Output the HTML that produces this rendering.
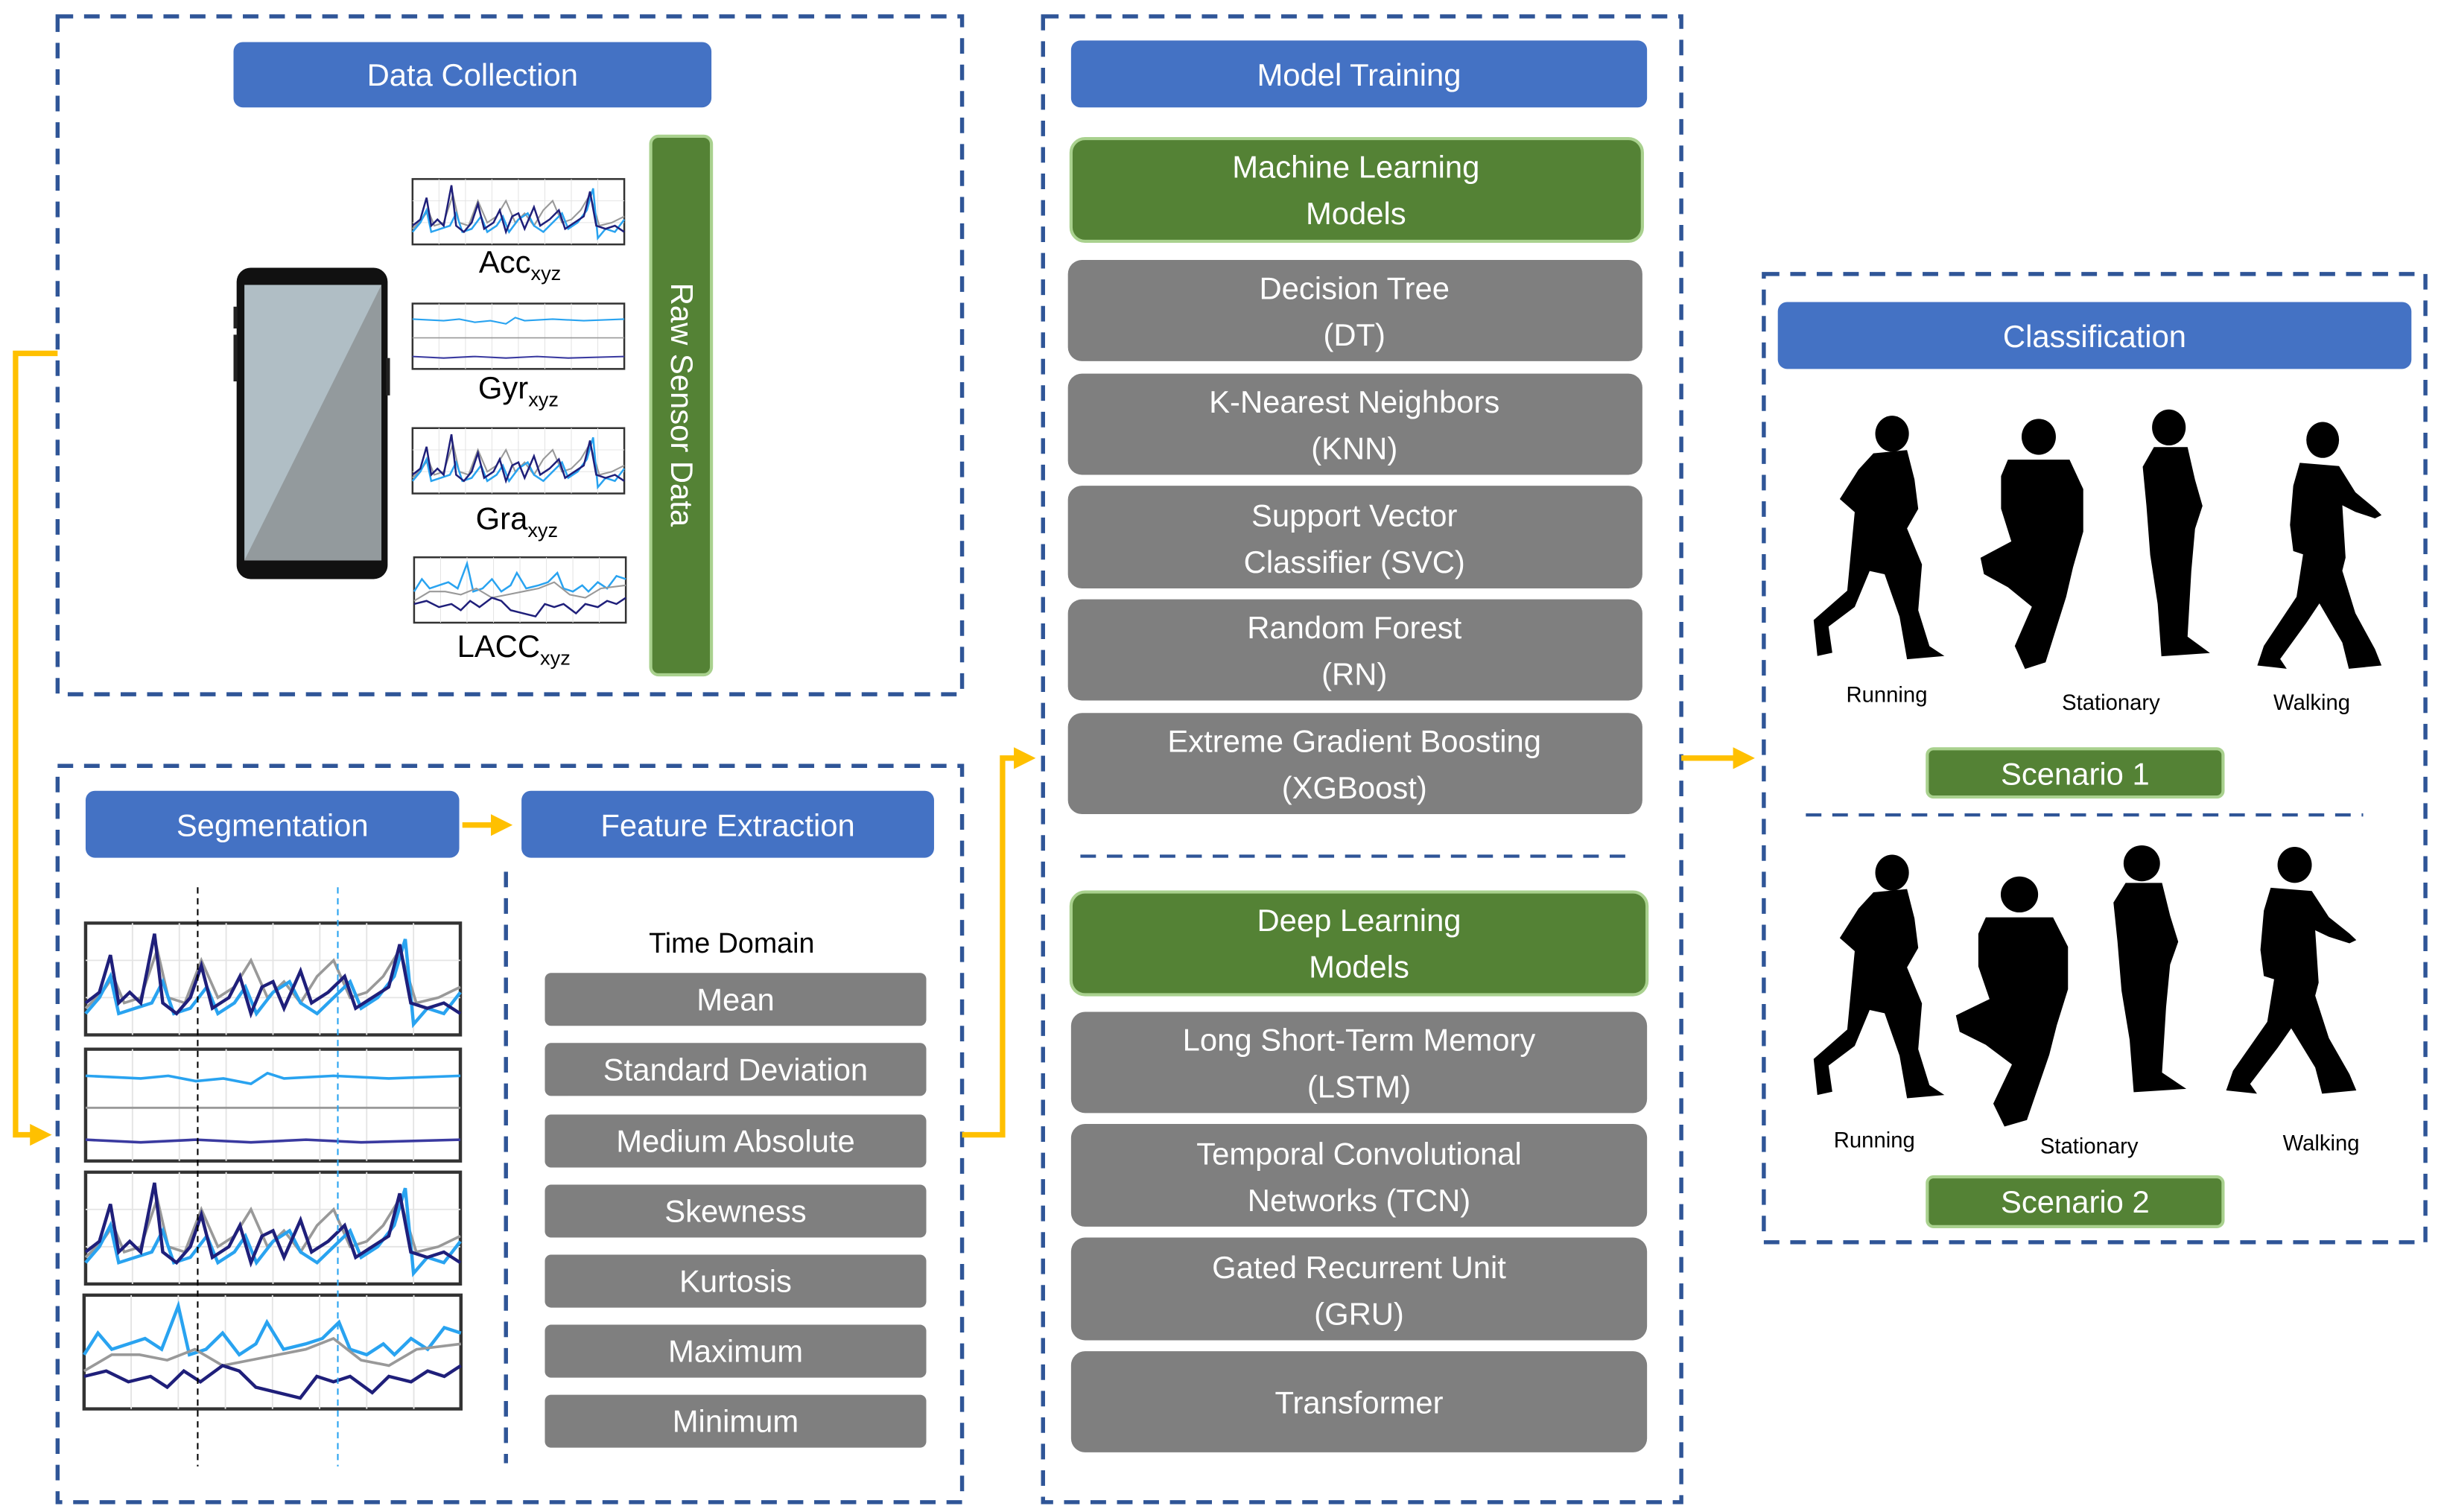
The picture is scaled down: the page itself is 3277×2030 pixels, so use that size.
<!DOCTYPE html>
<html><head><meta charset="utf-8"><style>
html,body{margin:0;padding:0;background:#fff;}
svg{display:block;}
text{font-family:"Liberation Sans",sans-serif;}
</style></head><body>
<svg width="3277" height="2030" viewBox="0 0 1568 971.3" xmlns="http://www.w3.org/2000/svg">
<defs>
<marker id="ah" markerWidth="4" markerHeight="4" refX="2.5" refY="2" orient="auto" markerUnits="strokeWidth">
<path d="M0,0 L4,2 L0,4 z" fill="#FFC000"/></marker>
<g id="spk">
<rect x="0" y="0" width="136" height="42" fill="#fff" stroke="#333" stroke-width="1.2"/>
<g stroke="#e4e4e4" stroke-width="0.5"><line x1="17" y1="0" x2="17" y2="42"/><line x1="34" y1="0" x2="34" y2="42"/><line x1="51" y1="0" x2="51" y2="42"/><line x1="68" y1="0" x2="68" y2="42"/><line x1="85" y1="0" x2="85" y2="42"/><line x1="102" y1="0" x2="102" y2="42"/><line x1="119" y1="0" x2="119" y2="42"/><line x1="0" y1="14" x2="136" y2="14"/><line x1="0" y1="28" x2="136" y2="28"/></g>
<polyline fill="none" stroke="#999" stroke-width="1" points="0,32 6,26 10,20 14,30 20,28 26,10 30,28 36,30 42,14 48,28 54,24 60,14 66,28 72,22 78,30 84,20 90,14 96,28 102,26 108,20 114,10 120,30 128,28 136,24"/>
<polyline fill="none" stroke="#29A3F0" stroke-width="1.2" points="0,34 5,28 9,20 12,34 18,32 24,30 28,22 32,34 38,32 44,24 48,34 54,30 58,24 62,34 68,26 74,22 78,30 84,34 90,28 96,22 100,32 106,28 112,20 116,6 119,38 124,32 130,34 136,26"/>
<polyline fill="none" stroke="#1F1F7A" stroke-width="1.2" points="0,30 5,26 9,12 12,30 16,26 20,30 25,4 28,30 33,34 38,28 42,16 46,32 52,28 56,20 60,34 64,24 68,22 72,32 78,18 82,30 88,26 94,20 98,32 104,28 110,24 114,8 118,30 124,32 130,30 136,34"/>
</g>
<g id="flat">
<rect x="0" y="0" width="136" height="42" fill="#fff" stroke="#333" stroke-width="1.2"/>
<g stroke="#e4e4e4" stroke-width="0.5"><line x1="17" y1="0" x2="17" y2="42"/><line x1="34" y1="0" x2="34" y2="42"/><line x1="51" y1="0" x2="51" y2="42"/><line x1="68" y1="0" x2="68" y2="42"/><line x1="85" y1="0" x2="85" y2="42"/><line x1="102" y1="0" x2="102" y2="42"/><line x1="119" y1="0" x2="119" y2="42"/></g>
<polyline fill="none" stroke="#29A3F0" stroke-width="1" points="0,10 20,11 30,10 40,12 50,11 60,13 66,9 72,11 90,10 110,11 136,10"/>
<line x1="0" y1="22" x2="136" y2="22" stroke="#999" stroke-width="0.8"/>
<polyline fill="none" stroke="#3A3AA0" stroke-width="1" points="0,34 20,35 40,34 60,35 80,34 100,35 136,34"/>
</g>
<g id="lacc">
<rect x="0" y="0" width="136" height="42" fill="#fff" stroke="#333" stroke-width="1.2"/>
<g stroke="#e4e4e4" stroke-width="0.5"><line x1="17" y1="0" x2="17" y2="42"/><line x1="34" y1="0" x2="34" y2="42"/><line x1="51" y1="0" x2="51" y2="42"/><line x1="68" y1="0" x2="68" y2="42"/><line x1="85" y1="0" x2="85" y2="42"/><line x1="102" y1="0" x2="102" y2="42"/><line x1="119" y1="0" x2="119" y2="42"/></g>
<polyline fill="none" stroke="#29A3F0" stroke-width="1.2" points="0,22 5,14 10,20 16,18 22,16 28,20 34,4 38,22 44,20 50,14 56,22 62,18 66,10 72,20 80,18 86,16 92,10 96,20 102,22 108,18 112,22 118,16 124,20 130,12 136,14"/>
<polyline fill="none" stroke="#999" stroke-width="1" points="0,28 10,22 20,22 30,24 40,20 50,26 60,24 70,22 80,20 90,16 100,24 110,26 120,20 136,18"/>
<polyline fill="none" stroke="#1F1F7A" stroke-width="1.2" points="0,30 8,28 16,32 24,30 30,34 36,28 42,32 50,26 56,28 62,34 70,36 78,38 84,30 90,32 96,30 104,36 110,30 118,32 124,28 130,30 136,26"/>
</g>
<g id="runner"><ellipse cx="42" cy="12" rx="9" ry="11"/><path d="M32,24 L50,22 L54,40 L56,58 L50,70 L58,92 L56,120 L62,142 L70,148 L50,150 L46,124 L38,98 L30,96 L22,118 L8,130 L10,146 L2,148 L0,126 L18,108 L20,84 L22,60 L14,52 L24,34 Z"/></g>
<g id="stander"><ellipse cx="16" cy="12" rx="9" ry="11"/><path d="M8,24 L26,24 L30,44 L34,60 L30,74 L28,100 L26,140 L38,150 L12,152 L10,120 L6,90 L4,60 L2,36 Z"/></g>
<g id="sitter"><ellipse cx="36" cy="12" rx="10" ry="11"/><path d="M18,26 L54,26 L62,44 L62,70 L56,92 L52,110 L40,150 L28,154 L22,140 L32,116 L18,104 L4,96 L2,86 L20,76 L14,56 L14,36 Z"/></g>
<g id="walker"><ellipse cx="40" cy="12" rx="10" ry="11"/><path d="M26,26 L50,28 L60,44 L72,54 L76,58 L72,60 L60,56 L52,52 L54,84 L52,92 L60,118 L72,140 L76,150 L56,152 L52,136 L38,112 L30,124 L14,146 L18,152 L0,150 L4,138 L24,108 L28,82 L22,80 L20,64 L22,40 Z"/></g>
</defs>

<g fill="none" stroke="#2F5597" stroke-width="2.6" stroke-dasharray="10,7">
<rect x="37" y="10.5" width="581" height="435.5"/>
<rect x="37" y="492" width="581" height="473"/>
<rect x="670" y="10.5" width="410" height="954.5"/>
<rect x="1133" y="176" width="425" height="622"/>
<line x1="325" y1="560" x2="325" y2="940"/>
<line x1="694" y1="550" x2="1050" y2="550" stroke-width="2"/>
<line x1="1160" y1="523.5" x2="1518" y2="523.5" stroke-width="2"/>
</g>

<g fill="none" stroke="#FFC000" stroke-width="3.5">
<polyline points="37,227 10,227 10,729 28,729" marker-end="url(#ah)"/>
<polyline points="618,729 644,729 644,487 660,487" marker-end="url(#ah)"/>
<line x1="1080" y1="487" x2="1122" y2="487" marker-end="url(#ah)"/>
<line x1="297" y1="530" x2="324" y2="530" marker-end="url(#ah)"/>
</g>

<g fill="#4472C4">
<rect x="150" y="27" width="307" height="42" rx="6"/>
<rect x="55" y="508" width="240" height="43" rx="6"/>
<rect x="335" y="508" width="265" height="43" rx="6"/>
<rect x="688" y="26" width="370" height="43" rx="6"/>
<rect x="1142" y="194" width="407" height="43" rx="6"/>
</g>
<g fill="#fff" font-size="20" text-anchor="middle">
<text x="303.5" y="55">Data Collection</text>
<text x="175" y="537">Segmentation</text>
<text x="467.5" y="537">Feature Extraction</text>
<text x="873" y="55">Model Training</text>
<text x="1345.5" y="223">Classification</text>
</g>

<rect x="418" y="87.5" width="39" height="346" rx="5" fill="#548235" stroke="#A9D18E" stroke-width="2"/>
<text x="0" y="0" transform="translate(431,260) rotate(90)" fill="#fff" font-size="20" text-anchor="middle">Raw Sensor Data</text>

<rect x="152" y="172" width="97" height="200" rx="9" fill="#111"/>
<polygon points="157,183 245,183 245,360 157,360" fill="#B0BEC5"/>
<polygon points="245,183 245,360 157,360" fill="#939A9D"/>
<rect x="150" y="197" width="2.5" height="14" fill="#222"/>
<rect x="150" y="215" width="2.5" height="30" fill="#222"/>
<rect x="248" y="230" width="2.5" height="24" fill="#222"/>

<use href="#spk" x="265" y="115"/>
<use href="#flat" x="265" y="195"/>
<use href="#spk" x="265" y="275"/>
<use href="#lacc" x="266" y="358"/>
<g font-size="20" fill="#000" text-anchor="middle">
<text x="334" y="175">Acc<tspan font-size="13" dy="5">xyz</tspan></text>
<text x="333" y="256">Gyr<tspan font-size="13" dy="5">xyz</tspan></text>
<text x="332" y="340">Gra<tspan font-size="13" dy="5">xyz</tspan></text>
<text x="330" y="422">LACC<tspan font-size="13" dy="5">xyz</tspan></text>
</g>

<g transform="translate(55,593) scale(1.77,1.71)"><use href="#spk"/></g>
<g transform="translate(55,674) scale(1.77,1.71)"><use href="#flat"/></g>
<g transform="translate(55,753) scale(1.77,1.71)"><use href="#spk"/></g>
<g transform="translate(54,832) scale(1.78,1.74)"><use href="#lacc"/></g>
<line x1="127" y1="570" x2="127" y2="942" stroke="#000" stroke-width="1" stroke-dasharray="4,3"/>
<line x1="217" y1="570" x2="217" y2="942" stroke="#29A3F0" stroke-width="1" stroke-dasharray="4,3"/>

<text x="470" y="612" font-size="18" text-anchor="middle" fill="#000">Time Domain</text>
<g fill="#7F7F7F">
<rect x="350" y="625" width="245" height="34" rx="4"/>
<rect x="350" y="670" width="245" height="34" rx="4"/>
<rect x="350" y="716" width="245" height="34" rx="4"/>
<rect x="350" y="761" width="245" height="34" rx="4"/>
<rect x="350" y="806" width="245" height="34" rx="4"/>
<rect x="350" y="851" width="245" height="34" rx="4"/>
<rect x="350" y="896" width="245" height="34" rx="4"/>
</g>
<g fill="#fff" font-size="20" text-anchor="middle">
<text x="472.5" y="649">Mean</text>
<text x="472.5" y="694">Standard Deviation</text>
<text x="472.5" y="740">Medium Absolute</text>
<text x="472.5" y="785">Skewness</text>
<text x="472.5" y="830">Kurtosis</text>
<text x="472.5" y="875">Maximum</text>
<text x="472.5" y="920">Minimum</text>
</g>

<g fill="#548235" stroke="#A9D18E" stroke-width="2">
<rect x="688" y="89" width="367" height="66" rx="9"/>
<rect x="688" y="573" width="370" height="66" rx="9"/>
</g>
<g fill="#7F7F7F">
<rect x="686" y="167" width="369" height="65" rx="9"/>
<rect x="686" y="240" width="369" height="65" rx="9"/>
<rect x="686" y="312" width="369" height="66" rx="9"/>
<rect x="686" y="385" width="369" height="65" rx="9"/>
<rect x="686" y="458" width="369" height="65" rx="9"/>
<rect x="688" y="650" width="370" height="65" rx="9"/>
<rect x="688" y="722" width="370" height="66" rx="9"/>
<rect x="688" y="795" width="370" height="66" rx="9"/>
<rect x="688" y="868" width="370" height="65" rx="9"/>
</g>
<g fill="#fff" font-size="20" text-anchor="middle">
<text x="871" y="114">Machine Learning</text><text x="871" y="144">Models</text>
<text x="870" y="192">Decision Tree</text><text x="870" y="222">(DT)</text>
<text x="870" y="265">K-Nearest Neighbors</text><text x="870" y="295">(KNN)</text>
<text x="870" y="338">Support Vector</text><text x="870" y="368">Classifier (SVC)</text>
<text x="870" y="410">Random Forest</text><text x="870" y="440">(RN)</text>
<text x="870" y="483">Extreme Gradient Boosting</text><text x="870" y="513">(XGBoost)</text>
<text x="873" y="598">Deep Learning</text><text x="873" y="628">Models</text>
<text x="873" y="675">Long Short-Term Memory</text><text x="873" y="705">(LSTM)</text>
<text x="873" y="748">Temporal Convolutional</text><text x="873" y="778">Networks (TCN)</text>
<text x="873" y="821">Gated Recurrent Unit</text><text x="873" y="851">(GRU)</text>
<text x="873" y="908">Transformer</text>
</g>

<g fill="#000">
<g transform="translate(1165,266) scale(1.2,1.05)"><use href="#runner"/></g>
<g transform="translate(1270,268) scale(1.1,1.05)"><use href="#sitter"/></g>
<g transform="translate(1374,262) scale(1.2,1.05)"><use href="#stander"/></g>
<g transform="translate(1450,270) scale(1.05,1.05)"><use href="#walker"/></g>
<g transform="translate(1165,548) scale(1.2,1.05)"><use href="#runner"/></g>
<g transform="translate(1254,562) scale(1.2,1.05)"><use href="#sitter"/></g>
<g transform="translate(1355,542) scale(1.3,1.05)"><use href="#stander"/></g>
<g transform="translate(1430,543) scale(1.1,1.05)"><use href="#walker"/></g>
</g>
<g fill="#000" font-size="14" text-anchor="middle">
<text x="1212" y="451">Running</text>
<text x="1356" y="456">Stationary</text>
<text x="1485" y="456">Walking</text>
<text x="1204" y="737">Running</text>
<text x="1342" y="741">Stationary</text>
<text x="1491" y="739">Walking</text>
</g>
<g fill="#548235" stroke="#A9D18E" stroke-width="2">
<rect x="1238" y="481" width="190" height="31" rx="4"/>
<rect x="1238" y="756" width="190" height="32" rx="4"/>
</g>
<g fill="#fff" font-size="20" text-anchor="middle">
<text x="1333" y="504">Scenario 1</text>
<text x="1333" y="779">Scenario 2</text>
</g>
</svg>
</body></html>
